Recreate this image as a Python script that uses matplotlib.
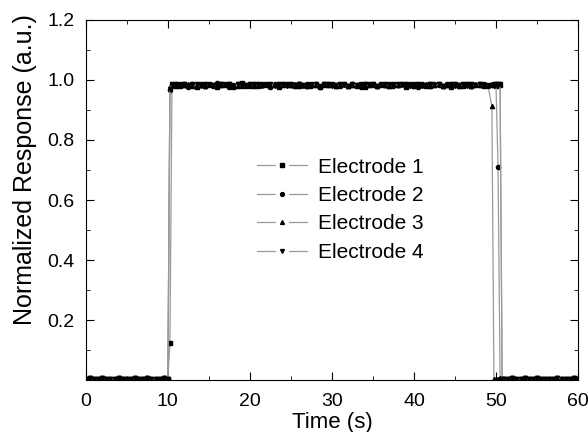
import numpy as np
import matplotlib.pyplot as plt
import matplotlib as mpl
from matplotlib.lines import Line2D
from matplotlib.legend_handler import HandlerTuple
from matplotlib.ticker import MultipleLocator

mpl.rcParams['font.family'] = 'Liberation Sans'
mpl.rcParams['font.size'] = 12

# sample clock (s): 0.5 s steps, extra samples at the switching edges
t_pre = np.arange(0, 10.5, 0.5)
t_rise = [10.25]
t_mid = np.arange(10.5, 50.0, 0.5)
t_fall = [49.75, 50.0, 50.25, 50.5, 50.75]
t_post = np.arange(51, 60.5, 0.5)
time_s = np.concatenate([t_pre, t_rise, t_mid, t_fall, t_post])

base_pre = [0.005, 0.006, 0.004, 0.005, 0.006, 0.005, 0.004, 0.005, 0.006, 0.005,
            0.005, 0.004, 0.006, 0.005, 0.005, 0.006, 0.004, 0.005, 0.005, 0.006,
            0.005]
base_post = [0.005, 0.004, 0.006, 0.005, 0.005, 0.006, 0.004, 0.005, 0.006, 0.005,
             0.005, 0.004, 0.005, 0.006, 0.005, 0.004, 0.005, 0.006, 0.005]

plateau1 = [0.983, 0.987, 0.979, 0.985, 0.981, 0.988, 0.977, 0.984, 0.980, 0.986,
            0.982, 0.978, 0.987, 0.983, 0.985, 0.976, 0.984, 0.989, 0.980, 0.983,
            0.986, 0.979, 0.984, 0.987, 0.981, 0.983, 0.978, 0.985, 0.988, 0.982,
            0.979, 0.986, 0.983, 0.980, 0.987, 0.984, 0.977, 0.985, 0.982, 0.988,
            0.980, 0.983, 0.986, 0.979, 0.984, 0.981, 0.987, 0.978, 0.985, 0.983,
            0.980, 0.988, 0.982, 0.979, 0.986, 0.983, 0.985, 0.977, 0.984, 0.987,
            0.981, 0.983, 0.979, 0.986, 0.982, 0.988, 0.980, 0.983, 0.978, 0.986,
            0.984, 0.981, 0.987, 0.979, 0.983, 0.985, 0.980, 0.984, 0.982]
plateau2 = [0.980, 0.985, 0.988, 0.982, 0.978, 0.986, 0.983, 0.987, 0.979, 0.984,
            0.981, 0.989, 0.982, 0.985, 0.978, 0.983, 0.987, 0.980, 0.984, 0.979,
            0.986, 0.982, 0.988, 0.983, 0.978, 0.985, 0.981, 0.987, 0.982, 0.984,
            0.979, 0.986, 0.983, 0.988, 0.981, 0.985, 0.978, 0.983, 0.987, 0.982,
            0.984, 0.979, 0.986, 0.981, 0.988, 0.983, 0.978, 0.985, 0.982, 0.987,
            0.980, 0.984, 0.982, 0.986, 0.981, 0.983, 0.988, 0.979, 0.985, 0.982,
            0.978, 0.986, 0.983, 0.981, 0.987, 0.984, 0.980, 0.985, 0.982, 0.988,
            0.981, 0.983, 0.986, 0.979, 0.984, 0.982, 0.987, 0.980, 0.983]
plateau3 = [0.984, 0.980, 0.987, 0.982, 0.985, 0.979, 0.983, 0.988, 0.981, 0.986,
            0.982, 0.980, 0.984, 0.987, 0.981, 0.983, 0.979, 0.985, 0.982, 0.988,
            0.980, 0.984, 0.983, 0.986, 0.981, 0.987, 0.979, 0.983, 0.985, 0.982,
            0.988, 0.980, 0.984, 0.981, 0.986, 0.983, 0.979, 0.987, 0.982, 0.985,
            0.981, 0.983, 0.988, 0.980, 0.984, 0.982, 0.986, 0.979, 0.983, 0.987,
            0.981, 0.985, 0.982, 0.980, 0.986, 0.983, 0.988, 0.981, 0.984, 0.979,
            0.985, 0.982, 0.987, 0.980, 0.983, 0.986, 0.981, 0.984, 0.982, 0.988,
            0.980, 0.983, 0.985, 0.981, 0.987, 0.982, 0.984, 0.983]
plateau4 = [0.986, 0.981, 0.984, 0.988, 0.980, 0.983, 0.985, 0.979, 0.987, 0.982,
            0.984, 0.980, 0.986, 0.983, 0.988, 0.981, 0.985, 0.979, 0.983, 0.987,
            0.982, 0.985, 0.980, 0.984, 0.986, 0.981, 0.988, 0.983, 0.979, 0.985,
            0.982, 0.987, 0.980, 0.984, 0.983, 0.986, 0.981, 0.985, 0.988, 0.979,
            0.983, 0.986, 0.982, 0.980, 0.987, 0.984, 0.981, 0.985, 0.983, 0.988,
            0.979, 0.984, 0.986, 0.982, 0.980, 0.985, 0.983, 0.987, 0.981, 0.984,
            0.986, 0.980, 0.983, 0.988, 0.982, 0.985, 0.979, 0.984, 0.987, 0.981,
            0.983, 0.986, 0.980, 0.985, 0.982, 0.988, 0.984, 0.981, 0.983]

electrode1 = base_pre + [0.123] + plateau1 + [0.985, 0.981, 0.986, 0.983, 0.005] + base_post
electrode2 = base_pre + [0.968] + plateau2 + [0.984, 0.986, 0.71, 0.005, 0.005] + base_post
electrode3 = base_pre + [0.975] + plateau3 + [0.913] + [0.005, 0.004, 0.005, 0.006, 0.005] + base_post
electrode4 = base_pre + [0.970] + plateau4 + [0.984, 0.987, 0.982, 0.985, 0.005] + base_post

labels = ["Electrode 1", "Electrode 2", "Electrode 3", "Electrode 4"]
markers = ["s", "o", "^", "v"]
line_color = "#9a9a9a"

fig = plt.figure(figsize=(5.88, 4.32), dpi=100)
ax = fig.add_axes([0.146, 0.120, 0.837, 0.834])

for vals, mk in zip([electrode1, electrode2, electrode3, electrode4], markers):
    ax.plot(time_s, vals, color=line_color, lw=0.9, marker=mk, ms=3,
            mfc="black", mec="black")

ax.set_xlim(0, 60)
ax.set_ylim(0, 1.2)
ax.set_xticks([0, 10, 20, 30, 40, 50, 60])
ax.set_yticks([0.2, 0.4, 0.6, 0.8, 1.0, 1.2])
ax.set_yticklabels(["0.2", "0.4", "0.6", "0.8", "1.0", "1.2"])
ax.xaxis.set_minor_locator(MultipleLocator(5))
ax.yaxis.set_minor_locator(MultipleLocator(0.1))
ax.tick_params(which="both", direction="in", top=True, right=True)
ax.tick_params(which="major", length=6)
ax.tick_params(which="minor", length=3)
ax.tick_params(axis="x", labelsize=14, pad=9)
ax.tick_params(axis="y", labelsize=14, pad=8)

ax.set_xlabel("Time (s)", fontsize=16, labelpad=2)
ax.set_ylabel("Normalized Response (a.u.)", fontsize=18)
ax.yaxis.set_label_coords(-0.100, 0.585)

# legend handles: gray line broken around a small black marker
handles = []
for mk in markers:
    gap = Line2D([], [], color=line_color, lw=0.9, marker="s", ms=8,
                 mfc="white", mec="white")
    dot = Line2D([], [], ls="none", marker=mk, ms=2.8, mfc="black", mec="black")
    handles.append((gap, dot))
ax.legend(handles, labels, loc="center left", bbox_to_anchor=(0.31, 0.473),
          frameon=False, handlelength=2.4, handletextpad=0.5,
          fontsize=15, labelspacing=0.45,
          handler_map={tuple: HandlerTuple(ndivide=1, pad=0)})

fig.savefig("out.png", dpi=100)
